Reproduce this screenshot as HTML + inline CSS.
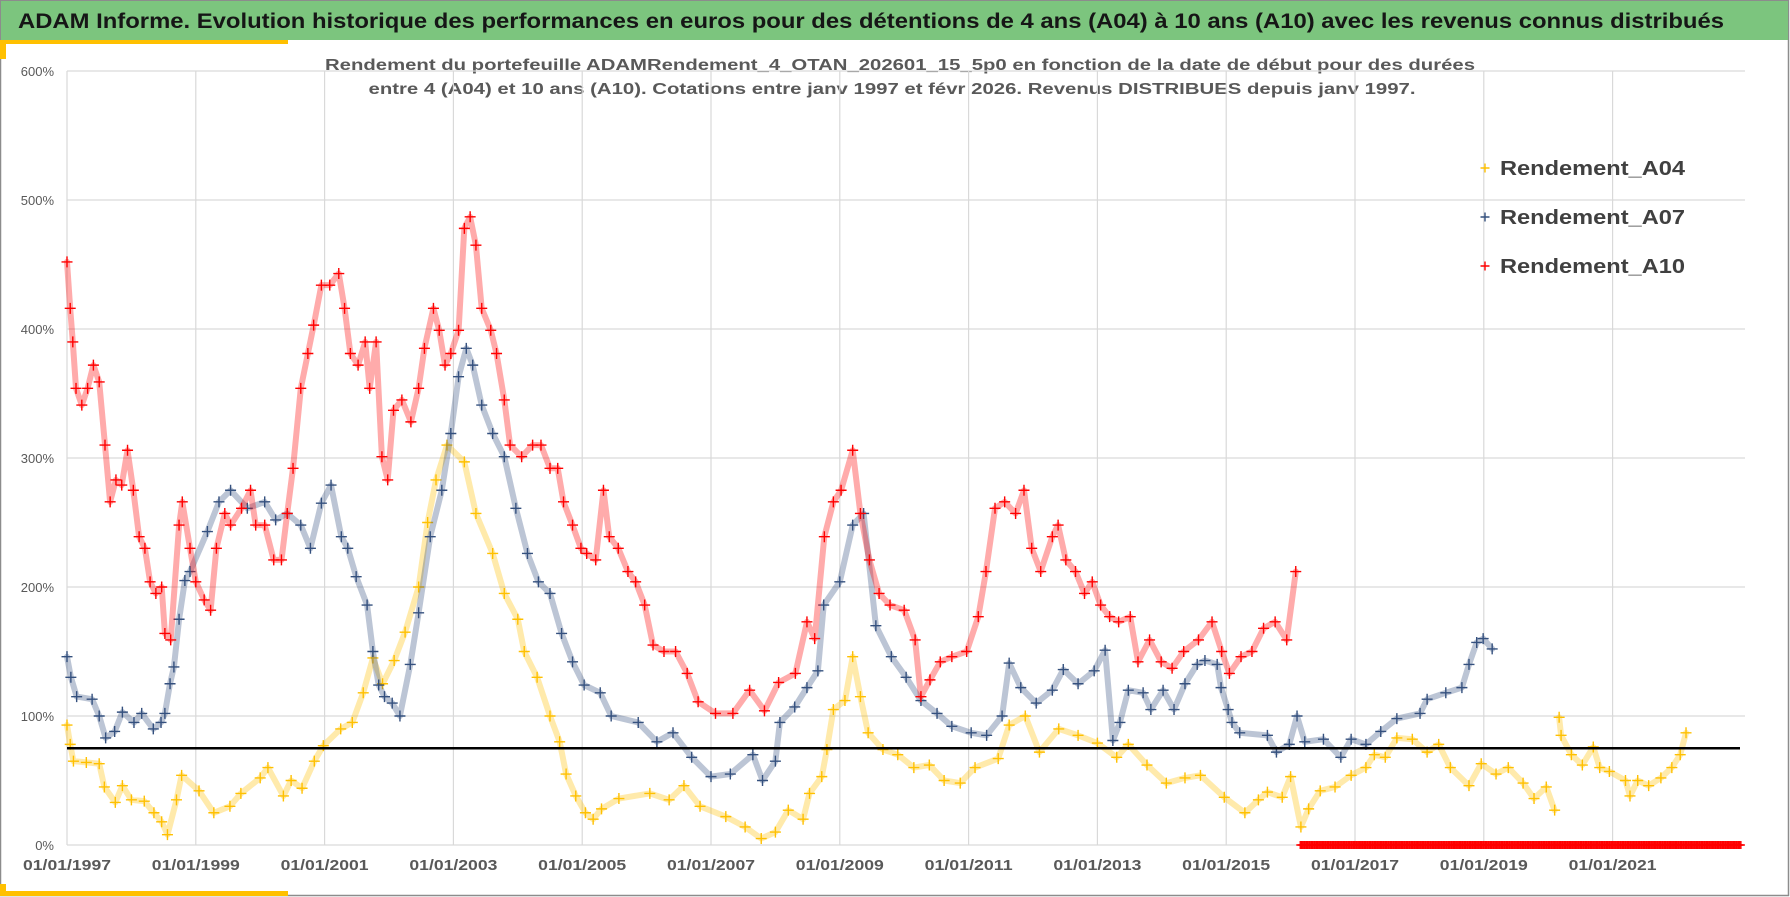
<!DOCTYPE html>
<html>
<head>
<meta charset="utf-8">
<style>
  html,body{margin:0;padding:0;background:#fff;}
  body{width:1790px;height:897px;overflow:hidden;}
  svg{display:block;font-family:"Liberation Sans",sans-serif;}
</style>
</head>
<body>
<svg id="chart" width="1790" height="897" viewBox="0 0 1790 897">
  <rect x="0" y="0" width="1790" height="897" fill="#ffffff"/>
  <rect x="0.5" y="0.5" width="1788" height="895" fill="none" stroke="#8c8c8c" stroke-width="1.5"/>
  <rect x="1" y="1" width="1787" height="39" fill="#7cc57e"/>
  <text x="18" y="28" font-size="21" font-weight="bold" fill="#161616" textLength="1706" lengthAdjust="spacingAndGlyphs">ADAM Informe. Evolution historique des performances en euros pour des détentions de 4 ans (A04) à 10 ans (A10) avec les revenus connus distribués</text>
  <rect x="0" y="40" width="288" height="4" fill="#ffc000"/>
  <rect x="0" y="40" width="6" height="19" fill="#ffc000"/>
  <rect x="0" y="891" width="288" height="5" fill="#ffc000"/>
  <rect x="0" y="884" width="6" height="12" fill="#ffc000"/>
  <text x="900" y="70" text-anchor="middle" font-size="16" font-weight="bold" fill="#595959" textLength="1150" lengthAdjust="spacingAndGlyphs">Rendement du portefeuille ADAMRendement_4_OTAN_202601_15_5p0  en fonction de la date de début pour des durées</text>
  <text x="892" y="94" text-anchor="middle" font-size="16" font-weight="bold" fill="#595959" textLength="1047" lengthAdjust="spacingAndGlyphs">entre 4 (A04) et 10 ans (A10). Cotations entre janv 1997 et févr 2026. Revenus DISTRIBUES depuis janv 1997.</text>
  <g id="grid"></g>
  <g id="axes"></g>
  <g id="series"></g>
  <g id="legend"></g>
</svg>
<script>
// ---- data ----
const yTicks = [0, 100, 200, 300, 400, 500, 600];
const xTickYears = [1997, 1999, 2001, 2003, 2005, 2007, 2009, 2011, 2013, 2015, 2017, 2019, 2021];
const xTickLabels = ["01/01/1997","01/01/1999","01/01/2001","01/01/2003","01/01/2005","01/01/2007","01/01/2009","01/01/2011","01/01/2013","01/01/2015","01/01/2017","01/01/2019","01/01/2021"];
const thresholdValue = 75;

const a04Dates = [1997.0,1997.05,1997.1,1997.3,1997.5,1997.58,1997.75,1997.86,1998.0,1998.2,1998.35,1998.47,1998.56,1998.7,1998.78,1999.05,1999.28,1999.53,1999.7,2000.0,2000.12,2000.36,2000.48,2000.65,2000.84,2000.98,2001.25,2001.43,2001.6,2001.75,2001.9,2002.08,2002.25,2002.46,2002.6,2002.73,2002.9,2003.17,2003.35,2003.61,2003.79,2004.0,2004.1,2004.3,2004.5,2004.65,2004.75,2004.9,2005.05,2005.17,2005.3,2005.57,2006.05,2006.35,2006.58,2006.83,2007.23,2007.53,2007.78,2008.0,2008.2,2008.43,2008.53,2008.72,2008.8,2008.9,2009.08,2009.2,2009.32,2009.44,2009.67,2009.9,2010.15,2010.39,2010.62,2010.87,2011.1,2011.46,2011.63,2011.88,2012.1,2012.4,2012.7,2013.0,2013.3,2013.48,2013.77,2014.07,2014.36,2014.6,2014.97,2015.29,2015.5,2015.64,2015.87,2016.0,2016.16,2016.28,2016.46,2016.69,2016.94,2017.17,2017.3,2017.47,2017.65,2017.89,2018.12,2018.3,2018.48,2018.77,2018.96,2019.19,2019.38,2019.61,2019.78,2019.97,2020.1,2020.13,2020.17,2020.2,2020.36,2020.53,2020.7,2020.8,2020.95,2021.2,2021.27,2021.39,2021.56,2021.75,2021.92,2022.05,2022.14];
const a04Values = [93,78,65,64,63,45,33,46,35,34,25,18,8,35,54,42,25,30,40,52,60,38,50,44,65,77,90,95,118,145,125,143,165,200,250,283,310,297,257,226,195,175,150,130,100,80,55,38,25,20,28,36,40,35,46,30,22,14,5,10,27,20,40,53,74,105,112,146,115,87,74,70,60,62,50,48,60,67,93,100,72,90,85,79,68,78,62,48,52,54,37,25,35,41,37,53,14,28,42,45,54,60,70,68,83,82,72,78,60,46,63,55,60,48,36,45,27,null,99,85,70,62,76,60,57,50,38,50,46,52,60,70,87];

const a07Dates = [1997.0,1997.06,1997.15,1997.39,1997.5,1997.6,1997.74,1997.86,1998.04,1998.16,1998.34,1998.46,1998.52,1998.6,1998.66,1998.74,1998.83,1998.91,1999.18,1999.36,1999.54,1999.8,2000.07,2000.24,2000.42,2000.63,2000.78,2000.95,2001.1,2001.26,2001.36,2001.49,2001.66,2001.75,2001.84,2001.93,2002.05,2002.17,2002.33,2002.46,2002.64,2002.82,2002.96,2003.08,2003.2,2003.3,2003.44,2003.61,2003.79,2003.97,2004.15,2004.32,2004.5,2004.68,2004.85,2005.03,2005.28,2005.45,2005.87,2006.16,2006.41,2006.7,2007.0,2007.3,2007.65,2007.8,2008.0,2008.07,2008.3,2008.49,2008.66,2008.75,2009.0,2009.2,2009.37,2009.56,2009.8,2010.03,2010.26,2010.51,2010.74,2011.04,2011.28,2011.52,2011.63,2011.81,2012.05,2012.3,2012.47,2012.7,2012.95,2013.12,2013.24,2013.35,2013.48,2013.71,2013.83,2014.02,2014.19,2014.36,2014.55,2014.67,2014.86,2014.92,2015.03,2015.09,2015.21,2015.64,2015.78,2015.98,2016.1,2016.22,2016.51,2016.78,2016.94,2017.17,2017.4,2017.65,2018.01,2018.12,2018.41,2018.66,2018.77,2018.89,2018.99,2019.13];
const a07Values = [146,130,115,113,100,83,88,103,95,102,90,95,102,125,138,175,205,212,243,266,275,261,266,252,257,248,230,265,279,239,230,208,186,150,124,115,110,100,140,180,239,275,319,363,385,372,341,319,301,261,226,204,195,164,142,124,118,100,95,80,87,68,53,55,70,50,65,95,107,122,135,186,204,248,257,170,146,130,112,102,92,87,85,100,141,122,110,120,136,125,135,151,81,95,120,118,105,120,105,125,140,143,140,122,105,95,87,85,72,78,100,80,82,68,82,78,88,98,102,113,118,122,140,157,160,152];

const a10Dates = [1997.0,1997.05,1997.09,1997.14,1997.23,1997.32,1997.41,1997.5,1997.59,1997.67,1997.76,1997.85,1997.94,1998.03,1998.12,1998.21,1998.29,1998.38,1998.47,1998.52,1998.61,1998.74,1998.79,1998.91,1999.0,1999.13,1999.23,1999.32,1999.45,1999.54,1999.71,1999.85,1999.93,2000.07,2000.21,2000.33,2000.42,2000.51,2000.63,2000.74,2000.83,2000.95,2001.08,2001.22,2001.31,2001.4,2001.52,2001.63,2001.7,2001.8,2001.89,2001.98,2002.07,2002.2,2002.34,2002.46,2002.55,2002.69,2002.78,2002.87,2002.96,2003.08,2003.17,2003.26,2003.35,2003.44,2003.58,2003.67,2003.79,2003.88,2004.06,2004.23,2004.36,2004.5,2004.62,2004.71,2004.85,2004.98,2005.07,2005.21,2005.33,2005.42,2005.56,2005.71,2005.83,2005.97,2006.1,2006.27,2006.45,2006.63,2006.8,2007.07,2007.34,2007.6,2007.83,2008.05,2008.31,2008.49,2008.61,2008.76,2008.9,2009.02,2009.2,2009.32,2009.46,2009.61,2009.78,2010.0,2010.17,2010.26,2010.4,2010.56,2010.74,2010.97,2011.15,2011.27,2011.41,2011.56,2011.73,2011.86,2011.98,2012.12,2012.3,2012.39,2012.51,2012.66,2012.8,2012.92,2013.05,2013.19,2013.33,2013.51,2013.63,2013.81,2013.99,2014.16,2014.34,2014.57,2014.78,2014.93,2015.05,2015.23,2015.4,2015.58,2015.76,2015.94,2016.08];
const a10Values = [452,416,390,354,341,354,372,359,310,266,283,279,306,275,239,230,204,195,200,164,159,248,266,230,204,190,182,230,257,248,261,275,248,248,221,221,257,292,354,381,403,434,434,443,416,381,372,390,354,390,301,283,337,345,328,354,385,416,399,372,381,399,478,487,465,416,399,381,345,310,301,310,310,292,292,266,248,230,226,221,275,239,230,212,204,186,155,150,150,133,111,102,102,120,104,126,133,173,160,239,266,275,306,257,221,195,186,182,159,115,128,142,146,150,177,212,261,266,257,275,230,212,239,248,221,212,195,204,186,177,173,177,142,159,142,137,150,159,173,150,133,146,150,168,173,159,212];

// A10 zero-valued points after the series stops (weekly, 2016.15 -> 2023.0)
const a10ZeroStart = 2016.15, a10ZeroEnd = 2023.0;
const a10ZeroValue = 0;

// ---- axes ----
const X0 = 67, PX_PER_YEAR = 64.4, XRIGHT = 1745;
const Y0 = 845, PX_PER_PCT = 1.29;
function xScale(year){ return X0 + (year - 1997) * PX_PER_YEAR; }
function yScale(v){ return Y0 - v * PX_PER_PCT; }

const NS = "http://www.w3.org/2000/svg";
function mk(tag, attrs, parent){
  const e = document.createElementNS(NS, tag);
  for (const k in attrs) e.setAttribute(k, attrs[k]);
  parent.appendChild(e);
  return e;
}
const grid = document.getElementById('grid');
const axes = document.getElementById('axes');
const series = document.getElementById('series');
const legend = document.getElementById('legend');

yTicks.forEach(function(t){
  const y = yScale(t);
  const l = mk('line', {x1: X0, x2: XRIGHT, y1: y, y2: y, stroke: '#d9d9d9', 'stroke-width': 1.2}, grid);
  
  
  const tx = mk('text', {x: 54, y: y + 5, 'text-anchor': 'end', 'font-size': 13, fill: '#595959'}, axes);
  tx.textContent = t + '%';
  
  
});
xTickYears.forEach(function(yr, i){
  const x = xScale(yr);
  const l = mk('line', {x1: x, x2: x, y1: yScale(600), y2: Y0, stroke: '#d9d9d9', 'stroke-width': 1.2}, grid);
  
  
  const tx = mk('text', {x: x, y: 870, 'text-anchor': 'middle', 'font-size': 15, 'font-weight': 'bold', fill: '#595959', textLength: 88, lengthAdjust: 'spacingAndGlyphs'}, axes);
  tx.textContent = xTickLabels[i];
  
  
});

function cross(g, x, y, color, size){
  const h = size / 2;
  const p = mk('path', {d: 'M' + (x - h) + ' ' + y + 'H' + (x + h) + 'M' + x + ' ' + (y - h) + 'V' + (y + h), stroke: color, 'stroke-width': 1.4, fill: 'none'}, g);
  return p;
}

function drawSeries(name, dates, values, color){
  const g = mk('g', {}, series);
  
  
  let segs = [], cur = [];
  for (let i = 0; i < dates.length; i++){
    if (values[i] === null){ if (cur.length) segs.push(cur); cur = []; continue; }
    cur.push(xScale(dates[i]).toFixed(1) + ',' + yScale(values[i]).toFixed(1));
  }
  if (cur.length) segs.push(cur);
  segs.forEach(function(s){
    const pl = mk('polyline', {points: s.join(' '), fill: 'none', stroke: color, 'stroke-width': 6, 'stroke-opacity': 0.33, 'stroke-linejoin': 'round', 'stroke-linecap': 'round'}, g);
    
    
  });
  for (let i = 0; i < dates.length; i++){
    if (values[i] === null) continue;
    const p = cross(g, xScale(dates[i]), yScale(values[i]), color, 11);
    
    
  }
}

const YELLOW = '#ffc000', BLUE = '#34507e', RED = '#ff0000';
drawSeries('rendement-a04', a04Dates, a04Values, YELLOW);
drawSeries('rendement-a07', a07Dates, a07Values, BLUE);
drawSeries('rendement-a10', a10Dates, a10Values, RED);

// zero markers
const zg = mk('g', {}, series);


for (let d = a10ZeroStart; d <= a10ZeroEnd + 1e-9; d += 7 / 365.25){
  const p = cross(zg, xScale(d), yScale(a10ZeroValue), RED, 8);
  
  
}

// threshold line
const th = mk('line', {x1: X0, x2: 1740, y1: yScale(thresholdValue), y2: yScale(thresholdValue), stroke: '#000', 'stroke-width': 2.5}, series);



// legend
const legendNames = ['Rendement_A04', 'Rendement_A07', 'Rendement_A10'];
const legendColors = [YELLOW, BLUE, RED];
legendNames.forEach(function(n, i){
  const y = 168 + i * 49;
  const g = mk('g', {}, legend);
  
  
  cross(g, 1485, y, legendColors[i], 9);
  const t = mk('text', {x: 1500, y: y + 7, 'font-size': 20, 'font-weight': 'bold', fill: '#404040', textLength: 185, lengthAdjust: 'spacingAndGlyphs'}, g);
  t.textContent = n;
});
</script>
</body>
</html>
